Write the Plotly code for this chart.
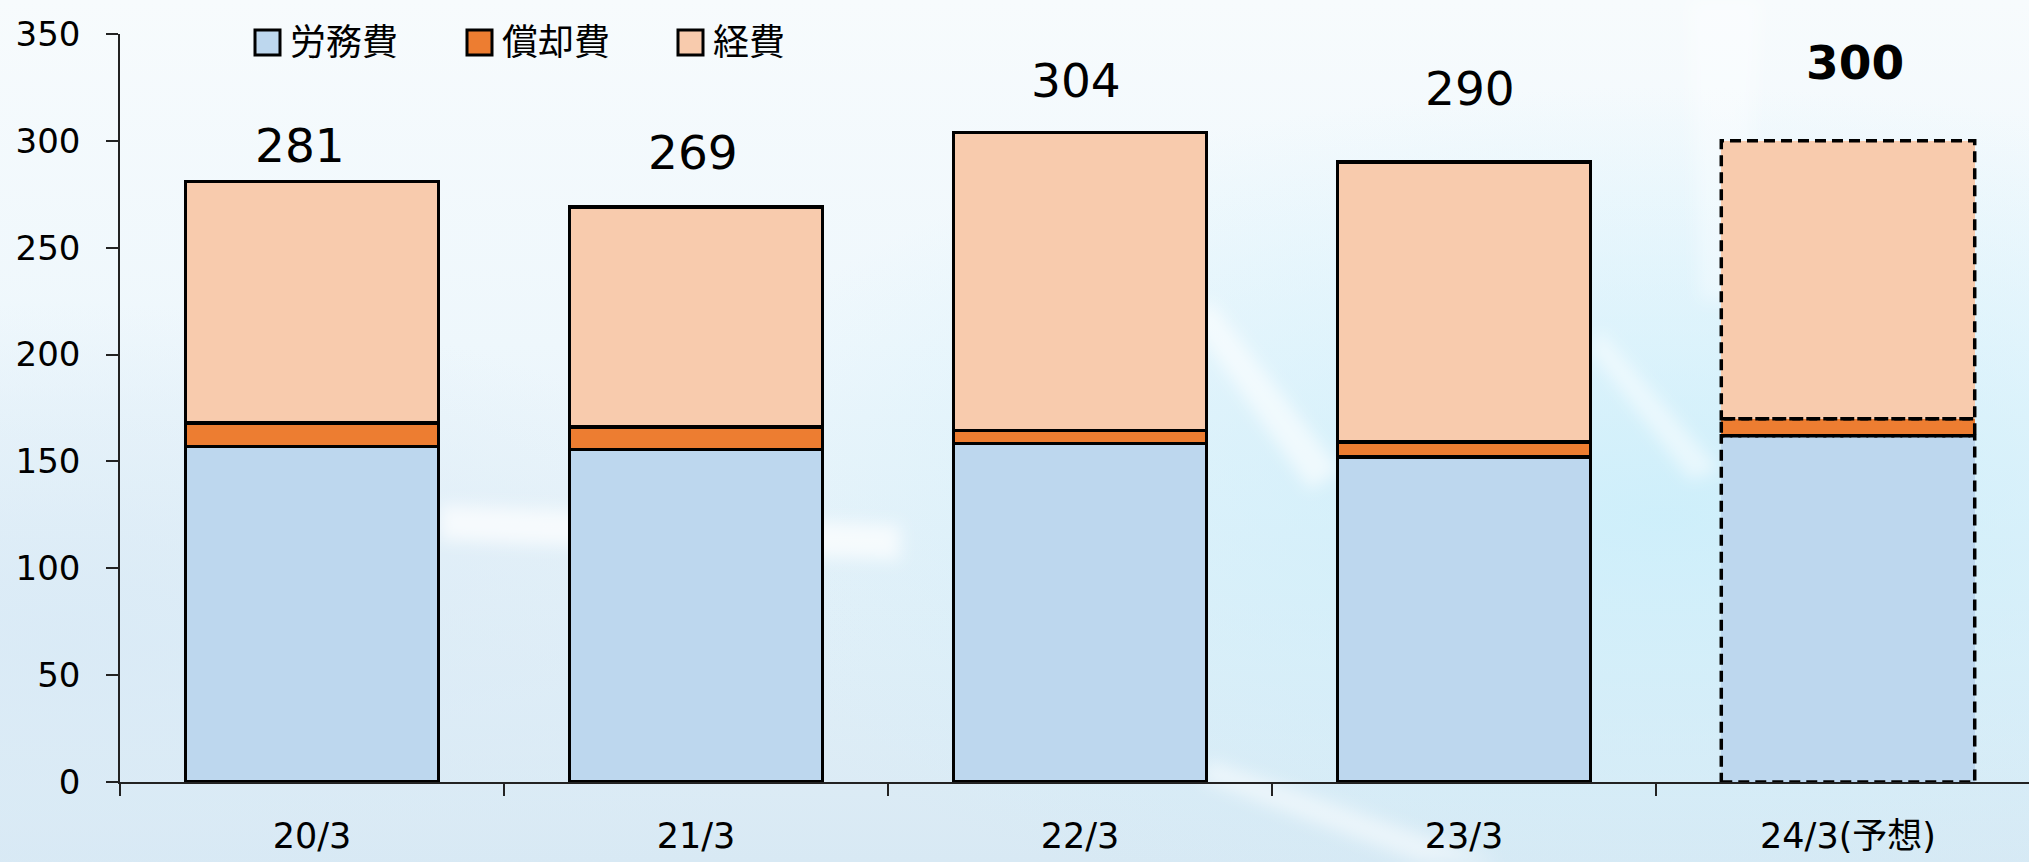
import base64
import plotly.graph_objects as go

# ---------------- data ----------------
categories = ["20/3", "21/3", "22/3", "23/3", "24/3(予想)"]
series_names = ["労務費", "償却費", "経費"]
labor = [157, 155.5, 158.5, 152, 162]        # 労務費
depreciation = [11, 10.5, 6, 7, 8]           # 償却費
expenses = [113, 103, 139.5, 131, 130]       # 経費
totals = [281, 269, 304, 290, 300]
forecast_flags = [False, False, False, False, True]

# ---------------- style ----------------
colors = ["#BDD7EE", "#ED7D31", "#F8CBAD"]
bar_w = 0.66
label_lift = [36, 55, 52, 74, 78]    # px above bar top for total labels
label_xshift = [-12, -3, -4, 6, 7]   # px horizontal nudges for total labels
FONT = "DejaVu Sans, Noto Sans CJK JP, sans-serif"
W, H = 2029, 862
L, R, T, B = 120, 0, 34, 80
PW, PH = W - L - R, H - T - B

def px_to_paper(xp, yp):
    return (xp - L) / PW, (H - B - yp) / PH

# background gradient (svg data uri)
svg = f'''<svg xmlns="http://www.w3.org/2000/svg" width="{W}" height="{H}" viewBox="0 0 {W} {H}" preserveAspectRatio="none">
<defs>
<linearGradient id="g" x1="0" y1="0" x2="0" y2="1">
<stop offset="0" stop-color="#f7fbfd"/><stop offset="0.4" stop-color="#eef7fc"/><stop offset="1" stop-color="#d8e9f4"/>
</linearGradient>
<radialGradient id="r" cx="0.82" cy="0.6" r="0.5">
<stop offset="0" stop-color="#c8eefb" stop-opacity="0.8"/><stop offset="1" stop-color="#c8eefb" stop-opacity="0"/>
</radialGradient>
<radialGradient id="r2" cx="0.03" cy="0.75" r="0.4">
<stop offset="0" stop-color="#d9eaf6" stop-opacity="0.9"/><stop offset="1" stop-color="#d9eaf6" stop-opacity="0"/>
</radialGradient>
<filter id="b" x="-20%" y="-20%" width="140%" height="140%"><feGaussianBlur stdDeviation="8"/></filter>
</defs>
<rect width="{W}" height="{H}" fill="url(#g)"/>
<rect width="{W}" height="{H}" fill="url(#r)"/>
<rect width="{W}" height="{H}" fill="url(#r2)"/>
<g filter="url(#b)">
<polygon points="440,505 900,525 900,560 440,540" fill="#ffffff" opacity="0.7"/>
<polygon points="1210,300 1340,470 1310,490 1190,320" fill="#ffffff" opacity="0.6"/>
<polygon points="1600,330 1720,470 1690,480 1590,350" fill="#ffffff" opacity="0.5"/>
<polygon points="1210,760 1500,862 1420,862 1200,780" fill="#ffffff" opacity="0.5"/>
<polygon points="1690,0 1760,0 1740,300 1700,300" fill="#ffffff" opacity="0.35"/>
</g>
</svg>'''
bg_uri = "data:image/svg+xml;base64," + base64.b64encode(svg.encode()).decode()

fig = go.Figure()
line_w = [0 if f else 3.5 for f in forecast_flags]
for name, vals, col in zip(series_names, [labor, depreciation, expenses], colors):
    fig.add_trace(go.Bar(
        x=categories, y=vals, name=name, width=bar_w,
        marker=dict(color=col, line=dict(color="black", width=line_w)),
        showlegend=False,
    ))

# dashed outlines for forecast bar segments
shapes = []
for i, f in enumerate(forecast_flags):
    if not f:
        continue
    base = 0
    for vals in [labor, depreciation, expenses]:
        shapes.append(dict(type="rect", xref="x", yref="y",
                           x0=i - bar_w / 2, x1=i + bar_w / 2, y0=base, y1=base + vals[i],
                           line=dict(color="black", width=3.5, dash="11px,6px"), layer="above"))
        base += vals[i]

# manual legend (large swatches)
legend_x = [255, 467, 678]
annotations = []
for name, col, lx in zip(series_names, colors, legend_x):
    x0, y0 = px_to_paper(lx, 55)
    x1, y1 = px_to_paper(lx + 25, 30)
    shapes.append(dict(type="rect", xref="paper", yref="paper", x0=x0, x1=x1, y0=y0, y1=y1,
                       fillcolor=col, line=dict(color="black", width=3)))
    tx, ty = px_to_paper(lx + 33, 42)
    annotations.append(dict(xref="paper", yref="paper", x=tx, y=ty, text=name, showarrow=False,
                            xanchor="left", yanchor="middle",
                            font=dict(family=FONT, size=36, color="black")))

# total labels
for i, (c, tot) in enumerate(zip(categories, totals)):
    bold = forecast_flags[i]
    annotations.append(dict(x=c, y=tot, text=f"<b>{tot}</b>" if bold else str(tot),
                            showarrow=False, yanchor="middle",
                            yshift=label_lift[i], xshift=label_xshift[i],
                            font=dict(family=FONT, size=47, color="black")))

fig.update_layout(
    barmode="stack",
    width=W, height=H, autosize=False,
    margin=dict(l=L, r=R, t=T, b=B, pad=0),
    paper_bgcolor="#e8f4fa",
    plot_bgcolor="rgba(0,0,0,0)",
    font=dict(family=FONT, color="black"),
    shapes=shapes,
    annotations=annotations,
    images=[dict(source=bg_uri, xref="paper", yref="paper",
                 x=-L / PW, y=1 + T / PH, sizex=W / PW, sizey=H / PH,
                 xanchor="left", yanchor="top", sizing="stretch", layer="below")],
    showlegend=False,
)
fig.update_xaxes(
    type="category", range=[-0.5, -0.5 + PW / 384],
    showline=True, linecolor="#222", linewidth=1.5,
    ticks="outside", tickson="boundaries", ticklen=12, tickwidth=1.5, tickcolor="#222",
    tickfont=dict(family=FONT, size=35, color="black"), ticklabelstandoff=22,
    showgrid=False, zeroline=False,
)
fig.update_yaxes(
    range=[0, 350], dtick=50, tick0=0,
    showline=True, linecolor="#222", linewidth=1.5,
    ticks="outside", ticklen=12, tickwidth=1.5, tickcolor="#222",
    tickfont=dict(family=FONT, size=34, color="black"), ticklabelstandoff=19,
    showgrid=False, zeroline=False,
)

fig.write_html("out.html")
